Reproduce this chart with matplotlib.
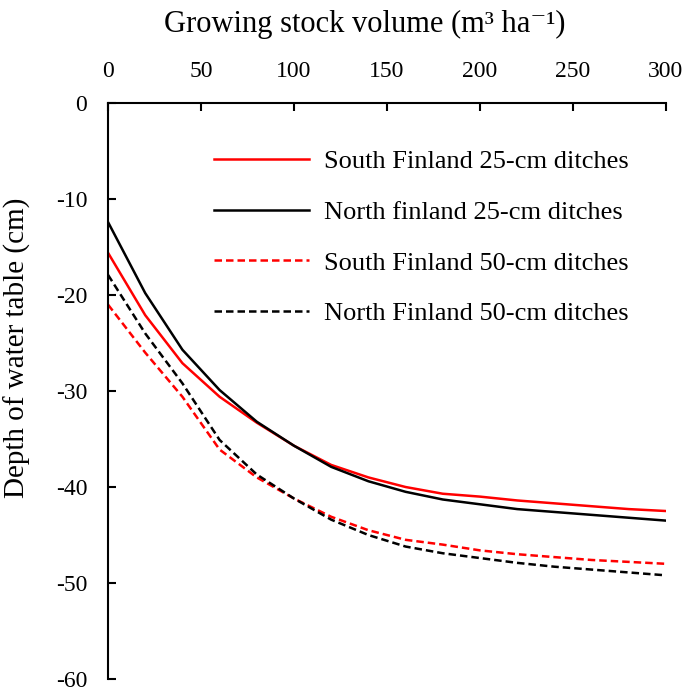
import matplotlib
matplotlib.use("Agg")
import matplotlib.pyplot as plt

# growing stock volume (m3/ha)
volume = [0, 20, 40, 60, 80, 100, 120, 140, 160, 180, 200, 220, 240, 260, 280, 300]

# depth of water table (cm)
south_25 = [-15.6, -22.1, -27.1, -30.6, -33.3, -35.7, -37.7, -39.0, -40.0, -40.7,
            -41.0, -41.4, -41.7, -42.0, -42.3, -42.5]
north_25 = [-12.4, -19.8, -25.7, -29.9, -33.2, -35.7, -37.9, -39.4, -40.5, -41.3,
            -41.8, -42.3, -42.6, -42.9, -43.2, -43.5]
south_50 = [-21.0, -26.0, -30.6, -36.1, -39.0, -41.2, -43.1, -44.5, -45.5, -46.0,
            -46.6, -47.0, -47.3, -47.6, -47.8, -48.0]
north_50 = [-17.9, -24.0, -29.2, -35.1, -38.7, -41.2, -43.4, -45.0, -46.2, -46.9,
            -47.4, -47.9, -48.3, -48.6, -48.9, -49.2]

labels = ["South Finland 25-cm ditches", "North finland 25-cm ditches",
          "South Finland 50-cm ditches", "North Finland 50-cm ditches"]

plt.rcParams["font.family"] = ["Liberation Serif", "DejaVu Serif"]
plt.rcParams["axes.unicode_minus"] = False

fig = plt.figure(figsize=(6.85, 6.97), dpi=100)
ax = fig.add_axes([0.1577, 0.0258, 0.8145, 0.8264])

dash = (0, (3, 1.6))
ax.plot(volume, south_25, color="#ff0000", lw=1.8, label=labels[0])
ax.plot(volume, north_25, color="black", lw=1.8, label=labels[1])
ax.plot(volume, south_50, color="#ff0000", lw=1.8, ls=dash, label=labels[2])
ax.plot(volume, north_50, color="black", lw=1.8, ls=dash, label=labels[3])

ax.set_xlim(0, 300)
ax.set_ylim(-60, 0)
ax.set_xticks(range(0, 301, 50))
ax.set_yticks(range(-60, 1, 10))

ax.xaxis.tick_top()
ax.xaxis.set_label_position("top")
ax.spines["right"].set_visible(False)
ax.spines["bottom"].set_visible(False)
for s in ("left", "top"):
    ax.spines[s].set_linewidth(1.5)
ax.tick_params(axis="both", direction="in", length=6, width=1.5, labelsize=17)
ax.tick_params(axis="y", pad=15)
ax.tick_params(axis="x", pad=15)

ax.set_xlabel("Growing stock volume (m³ ha⁻¹)", fontsize=22)
ax.xaxis.set_label_coords(0.46, 1.123)
ax.set_ylabel("Depth of water table (cm)", fontsize=21, va="center")
ax.yaxis.set_label_coords(-0.162, 0.575)

ax.legend(loc="upper left", bbox_to_anchor=(0.148, 0.96), frameon=False,
          fontsize=19, handlelength=3.6, handletextpad=0.57, labelspacing=1.03)

fig.savefig("out.png", dpi=100, facecolor="white")
